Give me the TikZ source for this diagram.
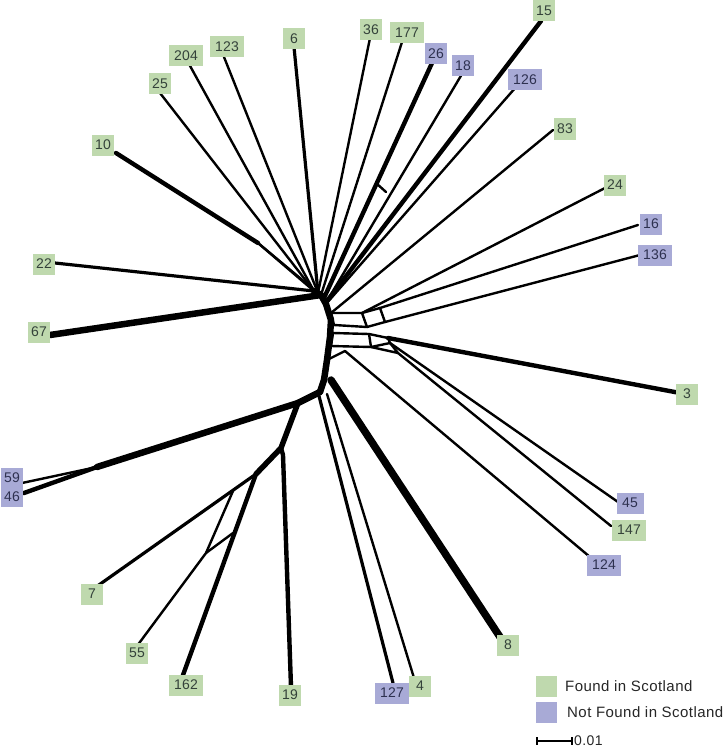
\documentclass[tikz,border=0pt]{standalone}
\usepackage{fontspec}
\usetikzlibrary{calc}
\setmainfont{Liberation Sans}
\newfontfamily\lblfont[LetterSpace=2]{Liberation Sans}
\newfontfamily\legfont[LetterSpace=3]{Liberation Sans}
\definecolor{fgreen}{HTML}{BFD9AE}
\definecolor{nblue}{HTML}{A8AAD6}
\definecolor{gtext}{HTML}{34423A}
\definecolor{btext}{HTML}{2E3150}
\tikzset{
  lab/.style={inner sep=0pt, minimum height=21pt, minimum width=22pt, font=\lblfont\fontsize{14}{14}\selectfont},
  found/.style={lab, fill=fgreen, text=gtext},
  notfound/.style={lab, fill=nblue, text=btext},
  wide/.style={minimum width=34pt},
  ethin/.style={line width=2.4pt},
  emid/.style={line width=3.2pt},
  ethick/.style={line width=4.4pt},
  eheavy/.style={line width=6.5pt},
  legtext/.style={font=\legfont\fontsize{15}{15}\selectfont, text=black!85, inner sep=0pt, anchor=base west},
}
\begin{document}
\begin{tikzpicture}[x=1pt,y=-1pt,line cap=round,line join=round]
\useasboundingbox (0,0) rectangle (725,749);

% ---------- internal coordinates ----------
\coordinate (h1) at (314,291);
\coordinate (h2) at (318,293);
\coordinate (h3) at (321,295);
\coordinate (h4) at (324,298);
\coordinate (h5) at (327,301);
\coordinate (t1) at (326,304);
\coordinate (t2) at (331,320);
\coordinate (t3) at (330,337);
\coordinate (t4) at (327,360);
\coordinate (t5) at (324,380);
\coordinate (t6) at (320,392);
\coordinate (s10) at (258,243);
\coordinate (r1) at (376,183);
\coordinate (r2) at (386,192);
% right ladder
\coordinate (A0) at (331,313);
\coordinate (A1) at (362,313);
\coordinate (A2) at (380,308);
\coordinate (B0) at (334,325);
\coordinate (B1) at (367,327);
\coordinate (B2) at (385,322);
\coordinate (C0) at (333,333);
\coordinate (C1) at (369,334);
\coordinate (C2) at (388,338);
\coordinate (D0) at (331,346);
\coordinate (D1) at (371,347);
\coordinate (D2) at (390,343);
\coordinate (E1) at (398,353);
\coordinate (F0) at (345,351);
% lower
\coordinate (L1) at (298,403);
\coordinate (L2) at (281,448);
\coordinate (L3) at (256,474);
\coordinate (M) at (97,467);
\coordinate (b8) at (331,380);
\coordinate (b127) at (319,396);
\coordinate (b4) at (327,394);
\coordinate (b19) at (283,455);
\coordinate (P1) at (233,491);
\coordinate (P2) at (206,553);
\coordinate (P3) at (233,533);

% ---------- leaf end points ----------
\coordinate (e10) at (116,153);
\coordinate (e25) at (160,93);
\coordinate (e204) at (189,64);
\coordinate (e123) at (224,57);
\coordinate (e6) at (294,47);
\coordinate (e36) at (370,38);
\coordinate (e177) at (402,42);
\coordinate (e26) at (432,63);
\coordinate (e18) at (462,74);
\coordinate (e15) at (541,21);
\coordinate (e126) at (516,87);
\coordinate (e83) at (553,130);
\coordinate (e24) at (605,188);
\coordinate (e16) at (638,225);
\coordinate (e136) at (640,255);
\coordinate (e3) at (680,393);
\coordinate (e45) at (618,502);
\coordinate (e147) at (611,526);
\coordinate (e124) at (590,557);
\coordinate (e8) at (500,637);
\coordinate (e4) at (414,678);
\coordinate (e127) at (393,683);
\coordinate (e19) at (291,687);
\coordinate (e162) at (183,675);
\coordinate (e55) at (137,646);
\coordinate (e7) at (96,587);
\coordinate (e59) at (22,483);
\coordinate (e46) at (24,493);
\coordinate (e67) at (50,335);
\coordinate (e22) at (55,263);

% ---------- edges ----------
% trunk
\draw[eheavy] (h1) -- (h3) -- (t1) -- (t2) -- (t3) -- (t4) -- (t5) -- (t6);
% upper left
\draw[ethick] (e10) -- (s10);
\draw[ethin] (s10) -- (h1);
\draw[ethin] (s10) -- (h2);
\draw[ethin] (e25) -- (h1);
\draw[ethin] (e204) -- (h1);
\draw[ethin] (e123) -- (h2);
\draw[emid] (e6) -- (h2);
\draw[emid] (e22) -- (h1);
\draw[eheavy] (e67) -- (h3);
% upper right
\draw[ethin] (e36) -- (h2);
\draw[ethin] (e177) -- (h3);
\draw[ethick] (e26) -- (h4);
\draw[ethin] (e18) -- (h5);
\draw[ethin] (r1) -- (r2);
\draw[ethick] (e15) -- (h5);
\draw[ethin] (e126) -- (t1);
\draw[ethin] (e83) -- (A0);
% right ladder
\draw[ethin] (A0) -- (A1) -- (A2);
\draw[ethin] (B0) -- (B1) -- (B2);
\draw[ethin] (A0) -- (B0) (A1) -- (B1) (A2) -- (B2);
\draw[ethin] (C0) -- (C1) -- (C2);
\draw[ethin] (D0) -- (D1) -- (D2);
\draw[ethin] (C0) -- (D0) (C1) -- (D1) (C2) -- (D2);
\draw[ethin] (D1) -- (E1) (D2) -- (E1);
\draw[ethin] (e24) -- (A1);
\draw[ethin] (e16) -- (A2);
\draw[ethin] (e136) -- (B2);
\draw[ethick] (e3) -- (C2);
\draw[ethin] (e45) -- (D2);
\draw[ethin] (e147) -- (E1);
\draw[ethin] (e124) -- (F0) -- (t4);
% lower right
\draw[line width=7.5pt] (e8) -- (b8);
\draw[emid] (e127) -- (b127);
\draw[ethin] (e4) -- (b4);
% lower left
\draw[eheavy] (t6) -- (L1);
\draw[eheavy] (L1) -- (M);
\draw[ethin] (M) -- (e59);
\draw[ethick] (M) -- (e46);
\draw[line width=5.5pt] (L1) -- (L2) -- (L3);
\draw[ethick] (e19) -- (b19) -- (L2);
\draw[ethick] (e162) -- (L3);
\draw[emid] (e7) -- (L3);
\draw[ethin] (e55) -- (P2) -- (P1);
\draw[ethin] (P2) -- (P3);

% ---------- labels ----------
\node[found] (n10) at (103,145) {10};
\node[found] (n25) at (160,84) {25};
\node[found,wide] (n204) at (186,56) {204};
\node[found,wide] (n123) at (227,47) {123};
\node[found] (n6) at (294,39) {6};
\node[found] (n36) at (371,30) {36};
\node[found,wide] (n177) at (407,33) {177};
\node[notfound] (n26) at (436,54) {26};
\node[notfound] (n18) at (463,66) {18};
\node[found] (n15) at (544,11) {15};
\node[notfound,wide] (n126) at (525,80) {126};
\node[found] (n83) at (565,129) {83};
\node[found] (n24) at (615,185) {24};
\node[notfound] (n16) at (651,224) {16};
\node[notfound,wide] (n136) at (655,255) {136};
\node[found] (n3) at (687,394) {3};
\node[notfound,minimum width=27pt] (n45) at (630,503) {45};
\node[found,wide] (n147) at (629,530) {147};
\node[notfound,wide] (n124) at (604,565) {124};
\node[found] (n8) at (508,645) {8};
\node[found] (n4) at (420,686) {4};
\node[notfound,wide] (n127) at (392,693) {127};
\node[found] (n19) at (290,695) {19};
\node[found,wide] (n162) at (186,685) {162};
\node[found] (n55) at (137,653) {55};
\node[found] (n7) at (92,594) {7};
\node[notfound,minimum height=19.5pt] (n59) at (12,477.5) {59};
\node[notfound,minimum height=19.5pt] (n46) at (12,497) {46};
\node[found] (n67) at (39,332) {67};
\node[found] (n22) at (44,264) {22};

% ---------- legend ----------
\node[lab, fill=fgreen, minimum width=21pt] (lg1) at (546.5,686.5) {};
\node[legtext] (lt1) at (565,691.5) {Found in Scotland};
\node[lab, fill=nblue, minimum width=21pt] (lg2) at (546.5,712.5) {};
\node[legtext] (lt2) at (567,717.5) {Not Found in Scotland};
\coordinate (sb1) at (537,741);
\coordinate (sb2) at (572,741);
\draw[line width=2pt,line cap=butt] (sb1) -- (sb2);
\draw[line width=1.6pt,line cap=butt] ($(sb1)+(0,-4)$) -- ($(sb1)+(0,4)$);
\draw[line width=1.6pt,line cap=butt] ($(sb2)+(0,-4)$) -- ($(sb2)+(0,4)$);
\node[legtext,font=\legfont\fontsize{14}{14}\selectfont] (sbt) at (574,745.5) {0.01};
\end{tikzpicture}
\end{document}
